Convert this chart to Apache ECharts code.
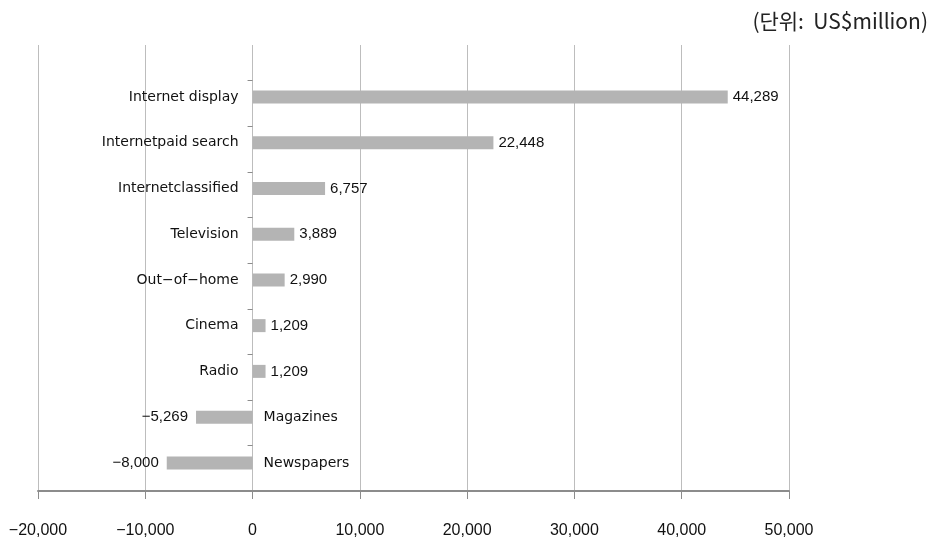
<!DOCTYPE html>
<html>
<head>
<meta charset="utf-8">
<script src="https://cdn.jsdelivr.net/npm/echarts@6/dist/echarts.min.js"></script>
<style>
  html, body { margin: 0; padding: 0; background: #fff; }
  #chart { width: 933px; height: 542px; }
</style>
</head>
<body>
<div id="chart"></div>
<script>
// Advertising spend change by medium (US$ million)
const categories = [
  'Internet display', 'Internetpaid search', 'Internetclassified', 'Television',
  'Out\u2212of\u2212home', 'Cinema', 'Radio', 'Magazines', 'Newspapers'
];
const values = [44289, 22448, 6757, 3889, 2990, 1209, 1209, -5269, -8000];

// value axis range and step
const axisMin = -20000;
const axisMax = 50000;
const axisStep = 10000;

const unitText = '(단위:  US$million)';

// plot area edges (px)
const plotLeft = 38;
const plotRight = 144;
const plotWidth = 933 - plotLeft - plotRight;
// pixel distance from the plot edges to the zero line
const zeroFromLeft = plotWidth * (0 - axisMin) / (axisMax - axisMin);
const zeroFromRight = plotWidth - zeroFromLeft;

function fmt(v) {
  const s = Math.abs(v).toLocaleString('en-US');
  return v < 0 ? '\u2212' + s : s;
}

const isNeg = {};
categories.forEach((c, i) => { isNeg[c] = values[i] < 0; });

const chart = echarts.init(document.getElementById('chart'));

const hiddenValueAxis = (grid) => ({
  type: 'value', gridIndex: grid, min: axisMin, max: axisMax, interval: axisStep,
  show: false
});

const gridBase = { left: plotLeft, right: plotRight, outerBoundsMode: 'none', containLabel: false };

chart.setOption({
  animation: false,
  backgroundColor: '#ffffff',
  title: {
    text: unitText,
    right: 0, top: 6,
    textStyle: { fontFamily: 'Noto Sans CJK KR', fontSize: 21, fontWeight: 'normal', color: '#222' }
  },
  grid: [
    // frame grid: vertical gridlines and the value axis
    Object.assign({ top: 45, bottom: 51 }, gridBase),
    // bars and category names
    Object.assign({ top: 74, height: 411.75 }, gridBase),
    // category boundary ticks
    Object.assign({ top: 80.7, height: 410.5 }, gridBase)
  ],
  xAxis: [
    {
      type: 'value', gridIndex: 0, min: axisMin, max: axisMax, interval: axisStep,
      axisLine: { show: true, onZero: false, lineStyle: { color: '#8c8c8c', width: 2 } },
      axisTick: { show: true, length: 8, lineStyle: { color: '#8c8c8c', width: 1 } },
      splitLine: { show: true, lineStyle: { color: '#bdbdbd', width: 1 } },
      axisLabel: {
        margin: 32, color: '#111', fontFamily: 'Liberation Sans', fontSize: 16,
        formatter: (v) => fmt(v)
      }
    },
    hiddenValueAxis(1),
    hiddenValueAxis(2)
  ],
  yAxis: [
    { type: 'category', gridIndex: 0, data: [''], show: false },
    {
      // names of growing media, left of the zero line
      type: 'category', gridIndex: 1, data: categories, inverse: true, position: 'left',
      offset: -zeroFromLeft,
      axisLine: { show: false, onZero: false },
      axisTick: { show: false },
      axisLabel: {
        margin: 14, color: '#111', fontFamily: 'DejaVu Sans', fontSize: 14,
        formatter: (c) => (isNeg[c] ? '' : c)
      }
    },
    {
      // names of shrinking media, right of the zero line
      type: 'category', gridIndex: 1, data: categories, inverse: true, position: 'right',
      offset: -zeroFromRight,
      axisLine: { show: false, onZero: false },
      axisTick: { show: false },
      axisLabel: {
        margin: 11, color: '#111', fontFamily: 'DejaVu Sans', fontSize: 14,
        formatter: (c) => (isNeg[c] ? c : '')
      }
    },
    {
      type: 'category', gridIndex: 2, data: categories, inverse: true, position: 'left',
      axisLine: { show: false, onZero: true, onZeroAxisIndex: 2 },
      axisTick: { show: true, length: 5, lineStyle: { color: '#8c8c8c' } },
      axisLabel: { show: false }
    }
  ],
  series: [
    {
      type: 'bar',
      xAxisIndex: 1, yAxisIndex: 1,
      barWidth: 13,
      itemStyle: { color: '#b4b4b4' },
      data: values.map((v) => ({
        value: v,
        label: {
          show: true,
          position: v < 0 ? 'left' : 'right',
          distance: v < 0 ? 8 : 5,
          formatter: () => fmt(v),
          color: '#111', fontFamily: 'Liberation Sans', fontSize: 15
        }
      }))
    }
  ]
});
</script>
</body>
</html>
